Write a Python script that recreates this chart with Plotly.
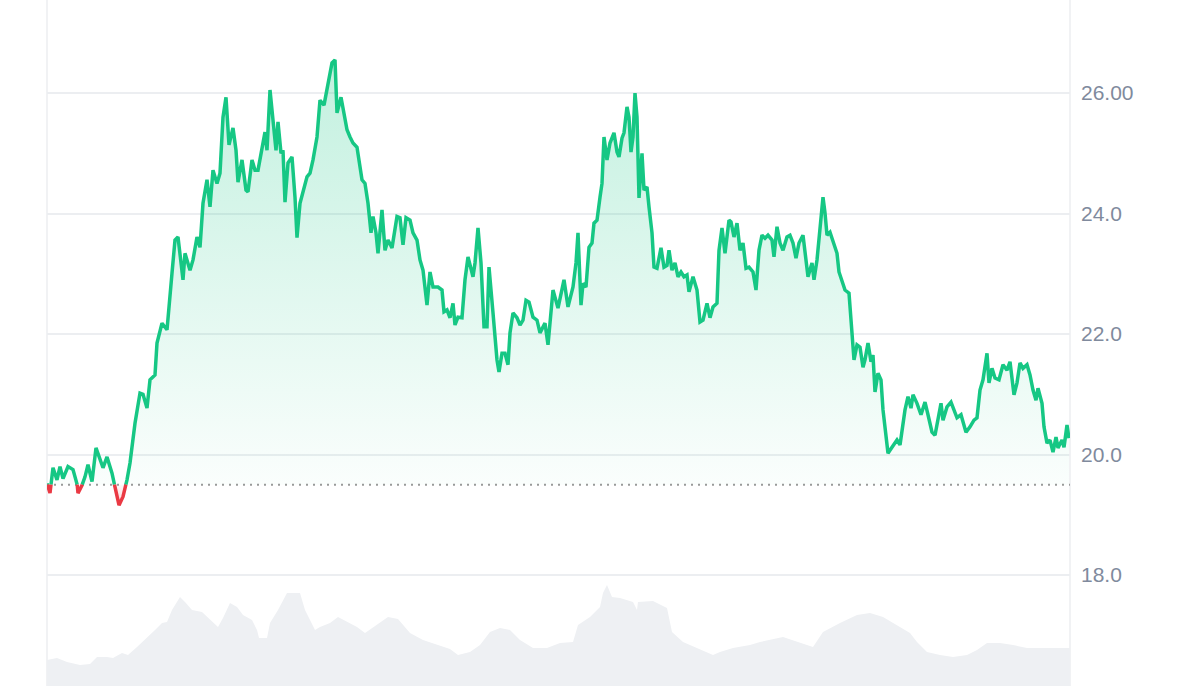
import plotly.graph_objects as go

BASE = 19.5

# time axis in 10-minute steps
step = [0, 3, 6, 10, 13, 16, 21, 26, 30, 31, 35, 38, 41, 45, 49, 53, 56, 60, 65, 68,
        72, 76, 80, 83, 88, 93, 96, 100, 103, 108, 110, 115, 120, 125, 128, 131, 136, 138, 143, 146,
        150, 153, 156, 160, 163, 166, 170, 173, 176, 179, 182, 186, 189, 191, 195, 199, 201, 205, 208, 211,
        215, 218, 220, 223, 226, 229, 231, 234, 236, 238, 241, 245, 248, 250, 253, 256, 260, 263, 266, 270,
        273, 277, 281, 285, 288, 290, 294, 296, 300, 303, 306, 310, 312, 315, 318, 321, 324, 326, 329, 331,
        335, 338, 341, 345, 350, 353, 356, 359, 363, 366, 370, 373, 376, 380, 383, 386, 391, 395, 397, 400,
        403, 406, 408, 411, 415, 418, 421, 426, 428, 431, 434, 437, 440, 442, 446, 450, 452, 455, 458, 461,
        463, 466, 470, 473, 476, 479, 482, 486, 490, 493, 498, 501, 506, 511, 517, 521, 526, 529, 531, 534,
        536, 539, 542, 545, 547, 550, 553, 555, 557, 560, 563, 567, 570, 572, 575, 577, 580, 582, 584, 586,
        588, 590, 592, 595, 597, 600, 602, 605, 607, 610, 614, 617, 620, 622, 625, 628, 631, 634, 637, 640,
        642, 646, 650, 653, 656, 660, 663, 666, 670, 672, 675, 678, 682, 684, 687, 690, 693, 696, 699, 702,
        706, 709, 712, 715, 718, 721, 725, 727, 730, 733, 736, 740, 743, 746, 749, 752, 756, 759, 761, 765,
        767, 770, 773, 776, 778, 780, 783, 786, 790, 792, 795, 798, 802, 805, 807, 810, 813, 816, 818, 821,
        824, 826, 828, 831, 834, 836, 839, 841, 845, 850, 853, 856, 858, 861, 864, 866, 870, 874, 878, 881,
        885, 888, 891, 894, 896, 900, 904, 907, 910, 914, 916, 919, 923, 927, 930, 933, 936, 940, 942, 945,
        948, 952, 956, 960, 963, 967, 970, 973, 976, 980, 983, 986, 989, 991, 995, 997, 1000, 1003, 1006, 1009,
        1011, 1015, 1017, 1020, 1022]

price = [19.52, 19.36, 19.78, 19.58, 19.80, 19.60, 19.80, 19.75, 19.53, 19.36, 19.49, 19.63, 19.83, 19.55, 20.11, 19.91, 19.78, 19.96, 19.69, 19.46,
         19.16, 19.30, 19.58, 19.86, 20.52, 21.02, 21.00, 20.77, 21.24, 21.32, 21.85, 22.18, 22.07, 23.01, 23.56, 23.61, 22.90, 23.34, 23.06, 23.23,
         23.61, 23.44, 24.17, 24.56, 24.11, 24.72, 24.50, 24.67, 25.60, 25.93, 25.14, 25.42, 25.05, 24.52, 24.89, 24.39, 24.36, 24.89, 24.72, 24.72,
         25.05, 25.35, 25.05, 26.05, 25.55, 25.05, 25.52, 25.00, 25.05, 24.19, 24.84, 24.94, 24.27, 23.60, 24.17, 24.34, 24.61, 24.67, 24.89, 25.27,
         25.88, 25.80, 26.16, 26.50, 26.55, 25.67, 25.93, 25.72, 25.39, 25.27, 25.17, 25.10, 24.89, 24.56, 24.50, 24.17, 23.68, 23.95, 23.68, 23.34,
         24.06, 23.39, 23.56, 23.43, 23.95, 23.93, 23.48, 23.93, 23.89, 23.68, 23.56, 23.23, 23.06, 22.48, 23.03, 22.78, 22.78, 22.73, 22.37, 22.40,
         22.27, 22.51, 22.15, 22.28, 22.27, 22.90, 23.28, 22.95, 23.18, 23.76, 23.18, 22.12, 22.12, 23.11, 22.35, 21.57, 21.37, 21.68, 21.68, 21.49,
         22.02, 22.35, 22.27, 22.15, 22.23, 22.56, 22.53, 22.28, 22.23, 22.02, 22.18, 21.82, 22.73, 22.43, 22.90, 22.45, 22.78, 23.18, 23.68, 22.48,
         22.84, 22.78, 23.44, 23.51, 23.84, 23.89, 24.27, 24.50, 25.27, 24.89, 25.17, 25.34, 25.02, 24.94, 25.25, 25.34, 25.77, 25.60, 25.02, 25.27,
         26.00, 25.60, 24.26, 25.00, 24.39, 24.44, 24.11, 23.68, 23.11, 23.09, 23.43, 23.11, 23.14, 23.39, 23.06, 23.18, 22.95, 23.03, 22.95, 22.98,
         22.70, 22.95, 22.73, 22.20, 22.23, 22.51, 22.27, 22.45, 22.51, 23.39, 23.76, 23.34, 23.89, 23.86, 23.61, 23.84, 23.39, 23.51, 23.09, 23.11,
         23.03, 22.73, 23.39, 23.64, 23.59, 23.64, 23.56, 23.28, 23.78, 23.51, 23.39, 23.61, 23.64, 23.51, 23.26, 23.51, 23.64, 23.28, 22.95, 23.18,
         22.90, 23.23, 23.78, 24.27, 24.01, 23.64, 23.69, 23.53, 23.34, 23.03, 22.90, 22.73, 22.68, 22.07, 21.57, 21.82, 21.78, 21.45, 21.57, 21.85,
         21.54, 21.65, 21.04, 21.35, 21.24, 20.74, 20.29, 20.02, 20.12, 20.24, 20.16, 20.57, 20.74, 20.96, 20.77, 20.99, 20.85, 20.66, 20.87, 20.66,
         20.37, 20.32, 20.62, 20.85, 20.57, 20.79, 20.87, 20.74, 20.61, 20.66, 20.52, 20.37, 20.46, 20.57, 20.61, 21.07, 21.24, 21.68, 21.19, 21.43,
         21.27, 21.24, 21.49, 21.40, 21.54, 20.99, 21.19, 21.52, 21.43, 21.49, 21.32, 21.07, 20.90, 21.10, 20.85, 20.46, 20.19, 20.24, 20.04, 20.29,
         20.11, 20.24, 20.12, 20.49, 20.27]

vol_step = [0, 10, 20, 33, 43, 50, 60, 66, 75, 81, 90, 100, 108, 115, 120, 125, 133, 138, 145, 155,
            163, 171, 176, 183, 190, 196, 205, 210, 212, 220, 223, 231, 240, 248, 253, 258, 265, 268, 273, 283,
            291, 301, 310, 318, 330, 341, 351, 363, 376, 390, 403, 411, 423, 433, 443, 453, 463, 473, 486, 500,
            513, 526, 531, 543, 553, 556, 560, 565, 573, 586, 590, 591, 606, 620, 625, 636, 650, 666, 673, 686,
            703, 713, 736, 750, 766, 776, 793, 810, 823, 836, 850, 863, 870, 880, 893, 906, 920, 930, 940, 953,
            966, 980, 993, 1006, 1023]
volume = [26, 28, 24, 21, 22, 29, 29, 28, 33, 31, 39, 48, 56, 63, 64, 76, 89, 84, 76, 74,
          66, 59, 68, 83, 79, 71, 66, 56, 48, 48, 63, 76, 93, 93, 93, 76, 63, 56, 59, 63,
          69, 64, 59, 53, 61, 69, 67, 53, 46, 41, 37, 31, 34, 41, 54, 58, 56, 46, 38, 38,
          43, 44, 61, 69, 79, 93, 101, 89, 88, 84, 76, 84, 85, 78, 54, 44, 38, 31, 34, 38,
          41, 44, 49, 44, 39, 54, 63, 71, 73, 69, 61, 53, 44, 34, 31, 29, 31, 36, 43, 43,
          41, 38, 38, 38, 38]

GREEN = "#16c784"
RED = "#ea3943"

# insert baseline crossings so colours switch exactly at the baseline
xs, ys = [step[0]], [price[0]]
for i in range(1, len(step)):
    x0, y0, x1, y1 = step[i - 1], price[i - 1], step[i], price[i]
    if (y0 - BASE) * (y1 - BASE) < 0:
        xs.append(x0 + (BASE - y0) * (x1 - x0) / (y1 - y0))
        ys.append(BASE)
    xs.append(x1)
    ys.append(y1)

green_line = [y if y >= BASE else None for y in ys]
red_line = [y if y <= BASE else None for y in ys]
green_fill = [max(y, BASE) for y in ys]
red_fill = [min(y, BASE) for y in ys]
base_vals = [BASE] * len(xs)

fig = go.Figure()

fig.add_trace(go.Scatter(x=xs, y=base_vals, mode="lines", line=dict(width=0),
                         hoverinfo="skip", showlegend=False))
fig.add_trace(go.Scatter(x=xs, y=green_fill, mode="lines", line=dict(width=0),
                         fill="tonexty",
                         fillgradient=dict(type="vertical",
                                           colorscale=[[0, "rgba(22,199,132,0.02)"],
                                                       [1, "rgba(22,199,132,0.26)"]],
                                           start=BASE, stop=max(price)),
                         hoverinfo="skip", showlegend=False))
fig.add_trace(go.Scatter(x=xs, y=base_vals, mode="lines", line=dict(width=0),
                         hoverinfo="skip", showlegend=False))
fig.add_trace(go.Scatter(x=xs, y=red_fill, mode="lines", line=dict(width=0),
                         fill="tonexty",
                         fillgradient=dict(type="vertical",
                                           colorscale=[[0, "rgba(234,57,67,0.22)"],
                                                       [1, "rgba(234,57,67,0.03)"]],
                                           start=min(price), stop=BASE),
                         hoverinfo="skip", showlegend=False))
fig.add_trace(go.Scatter(x=xs, y=green_line, mode="lines",
                         line=dict(color=GREEN, width=3.5), connectgaps=False,
                         showlegend=False))
fig.add_trace(go.Scatter(x=xs, y=red_line, mode="lines",
                         line=dict(color=RED, width=3.5), connectgaps=False,
                         showlegend=False))

fig.add_trace(go.Scatter(x=vol_step, y=volume, yaxis="y2", mode="lines",
                         line=dict(width=0), fill="tozeroy", fillcolor="#eef0f3",
                         hoverinfo="skip", showlegend=False))

fig.add_shape(type="line", xref="x", yref="y", x0=0, x1=1023, y0=BASE, y1=BASE,
              line=dict(color="#9a9a9a", width=2, dash="2px,5px"), layer="below")
for xp in (0, 1):
    fig.add_shape(type="line", xref="paper", yref="paper", x0=xp, x1=xp, y0=0, y1=1,
                  line=dict(color="#eceef1", width=1.5), layer="below")

fig.update_layout(
    width=1200, height=700,
    margin=dict(l=47, r=130, t=0, b=14),
    paper_bgcolor="white", plot_bgcolor="white",
    xaxis=dict(range=[0, 1023], visible=False),
    yaxis=dict(side="right", range=[16.158, 27.544],
               tickvals=[18, 20, 22, 24, 26],
               ticktext=["18.0", "20.0", "22.0", "24.0", "26.00"],
               showgrid=True, gridcolor="#eceef1", gridwidth=1.5,
               zeroline=False, ticks="", ticklabelstandoff=10,
               tickfont=dict(family="Arial, Liberation Sans", size=21, color="#808a9d")),
    yaxis2=dict(overlaying="y", range=[0, 686], visible=False),
    showlegend=False,
)

fig.write_html("out.html", config={"displayModeBar": False},
               post_script="document.body.style.margin='0';document.body.style.overflow='hidden';")
